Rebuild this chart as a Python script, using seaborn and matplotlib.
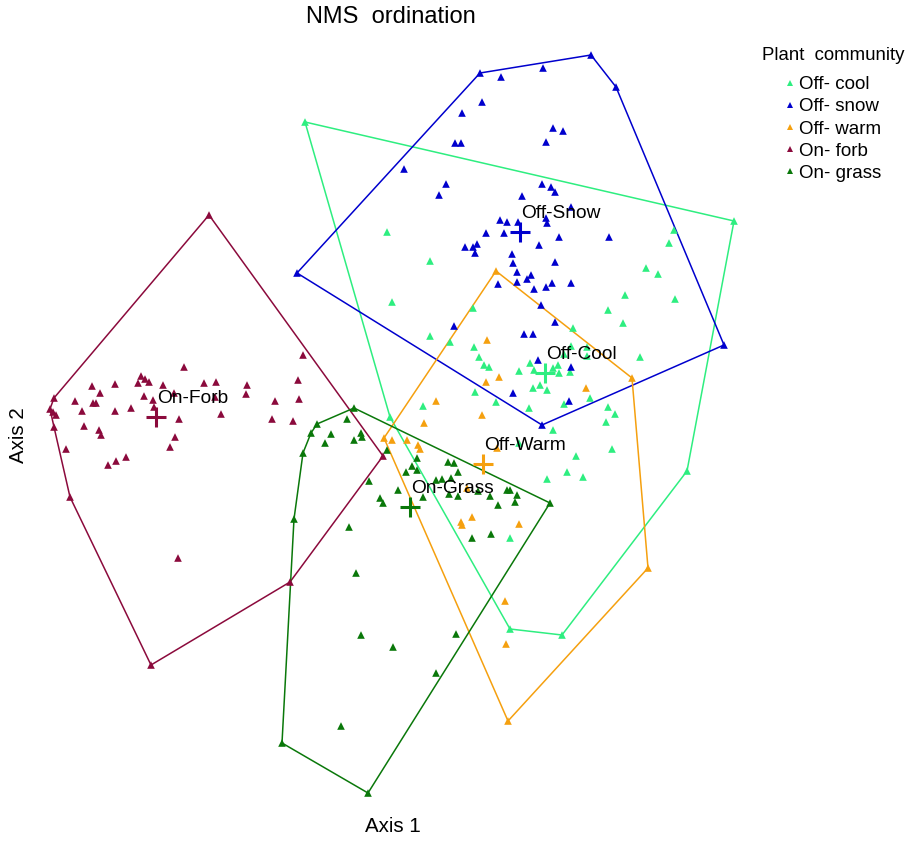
import numpy as np
import pandas as pd
import seaborn as sns
import matplotlib.pyplot as plt

# NMS scores (screen units, y grows downward)
off_cool = [(305, 122), (734, 221), (687, 471), (562, 635), (510, 629), (390, 417),
            (387, 232), (430, 261), (392, 302), (473, 308), (430, 336), (450, 342),
            (474, 347), (479, 357), (484, 365), (489, 367), (475, 392), (423, 406),
            (496, 402), (529, 408), (519, 371), (530, 363), (534, 370), (553, 368),
            (558, 365), (559, 373), (570, 372), (540, 385), (533, 388), (547, 390),
            (564, 354), (571, 346), (587, 347), (587, 356), (573, 328), (553, 430),
            (519, 443), (547, 479), (510, 538), (674, 230), (669, 243), (646, 268),
            (658, 274), (625, 295), (675, 299), (608, 310), (623, 323), (640, 357),
            (590, 398), (564, 404), (608, 407), (615, 414), (606, 422), (612, 449),
            (576, 456), (567, 472), (583, 477)]
off_snow = [(480, 73), (591, 55), (616, 87), (724, 345), (542, 425), (297, 273),
            (501, 77), (543, 68), (482, 102), (462, 113), (455, 143), (461, 143),
            (553, 128), (563, 131), (546, 142), (404, 169), (446, 184), (439, 195),
            (542, 184), (551, 187), (555, 192), (522, 196), (500, 220), (507, 222),
            (518, 222), (546, 218), (547, 223), (571, 207), (486, 233), (504, 233),
            (559, 237), (609, 237), (465, 247), (473, 247), (477, 244), (475, 253),
            (539, 245), (512, 254), (513, 263), (555, 262), (517, 272), (527, 279),
            (531, 275), (498, 284), (517, 282), (534, 289), (546, 287), (552, 283),
            (571, 283), (541, 305), (555, 322), (454, 326), (524, 334), (533, 334),
            (538, 360), (571, 367), (513, 393), (569, 401)]
off_warm = [(496, 271), (632, 378), (648, 568), (508, 721), (384, 438),
            (487, 340), (499, 377), (486, 382), (586, 388), (436, 401), (482, 415),
            (424, 423), (392, 440), (407, 440), (418, 445), (420, 449), (497, 448),
            (467, 488), (472, 517), (461, 522), (462, 525), (519, 524), (505, 601),
            (506, 644)]
on_forb = [(209, 215), (303, 355), (184, 367), (298, 380), (141, 376), (145, 379),
           (149, 382), (138, 383), (92, 386), (115, 384), (163, 385), (204, 383),
           (216, 382), (247, 385), (246, 394), (100, 393), (75, 401), (93, 403),
           (96, 403), (144, 396), (153, 400), (174, 393), (215, 397), (54, 398),
           (50, 409), (53, 412), (56, 415), (82, 411), (115, 411), (131, 408),
           (154, 407), (221, 414), (275, 401), (299, 399), (272, 419), (293, 421),
           (179, 419), (84, 426), (54, 427), (99, 430), (101, 435), (175, 437),
           (170, 447), (66, 449), (126, 457), (116, 461), (108, 465), (70, 497),
           (383, 456), (178, 558), (290, 582), (151, 665)]
on_grass = [(354, 408), (317, 424), (311, 433), (303, 453), (347, 419), (331, 434),
            (361, 433), (362, 437), (354, 440), (325, 443), (387, 450), (417, 458),
            (412, 466), (417, 470), (406, 472), (448, 462), (454, 463), (458, 472),
            (369, 481), (436, 480), (442, 479), (451, 478), (398, 490), (380, 498),
            (383, 503), (423, 497), (449, 494), (458, 496), (478, 491), (490, 496),
            (498, 505), (507, 490), (510, 490), (517, 495), (515, 502), (550, 503),
            (349, 527), (294, 519), (472, 538), (491, 534), (356, 573), (361, 635),
            (393, 647), (456, 634), (436, 673), (341, 726), (282, 743), (368, 793)]

groups = ["Off- cool", "Off- snow", "Off- warm", "On- forb", "On- grass"]
centroid_names = ["Off-Cool", "Off-Snow", "Off-Warm", "On-Forb", "On-Grass"]
centroid_x = [545, 520, 483, 156, 410]
centroid_y = [373, 232, 464, 417, 507]
colors = ["#2EEE80", "#0000CD", "#F5A00F", "#8B0A3C", "#0A780A"]

df = pd.concat([pd.DataFrame(pts, columns=["x", "y"]).assign(group=g)
                for g, pts in zip(groups, [off_cool, off_snow, off_warm, on_forb, on_grass])])


def hull(pts):
    # monotone chain convex hull
    pts = sorted(set(map(tuple, pts)))
    def cross(o, a, b):
        return (a[0] - o[0]) * (b[1] - o[1]) - (a[1] - o[1]) * (b[0] - o[0])
    lower, upper = [], []
    for p in pts:
        while len(lower) >= 2 and cross(lower[-2], lower[-1], p) <= 0:
            lower.pop()
        lower.append(p)
    for p in reversed(pts):
        while len(upper) >= 2 and cross(upper[-2], upper[-1], p) <= 0:
            upper.pop()
        upper.append(p)
    h = lower[:-1] + upper[:-1]
    return np.array(h + [h[0]])


sns.set_style("white")
plt.rcParams["font.family"] = ["Liberation Sans", "DejaVu Sans"]
plt.rcParams["text.color"] = "black"

fig = plt.figure(figsize=(9.15, 8.48), dpi=100)
ax = fig.add_axes([0, 0, 1, 1])

for g, c in zip(groups, colors):
    h = hull(df.loc[df.group == g, ["x", "y"]].values)
    ax.plot(h[:, 0], h[:, 1], color=c, lw=1.1, zorder=1)

sns.scatterplot(data=df, x="x", y="y", hue="group", hue_order=groups, palette=colors,
                marker="^", s=30, linewidth=0, ax=ax, zorder=2)

for name, cx, cy, c in zip(centroid_names, centroid_x, centroid_y, colors):
    ax.plot(cx, cy, marker="+", color=c, markersize=14, mew=2.2, zorder=3)
    ax.text(cx + 1, cy - 14, name, fontsize=13.8, ha="left", va="baseline", zorder=4)

ax.set_xlim(0, 915)
ax.set_ylim(848, 0)
ax.axis("off")

sns.move_legend(ax, "upper left", bbox_to_anchor=(782 / 915, 1 - 76 / 848), title=None,
                frameon=False, fontsize=13.5, handletextpad=0.1, borderpad=0,
                borderaxespad=0, handlelength=0.8, labelspacing=0.27, markerscale=0.7)

fig.text(833 / 915, 1 - 56 / 848, "Plant  community", fontsize=13.4, ha="center", va="center")
fig.text(391 / 915, 1 - 17 / 848, "NMS  ordination", fontsize=17, ha="center", va="center")
fig.text(393 / 915, 1 - 826 / 848, "Axis 1", fontsize=14.8, ha="center", va="center")
fig.text(18 / 915, 1 - 435 / 848, "Axis 2", fontsize=14.8, ha="center", va="center", rotation=90)

fig.savefig("out.png", dpi=100)
